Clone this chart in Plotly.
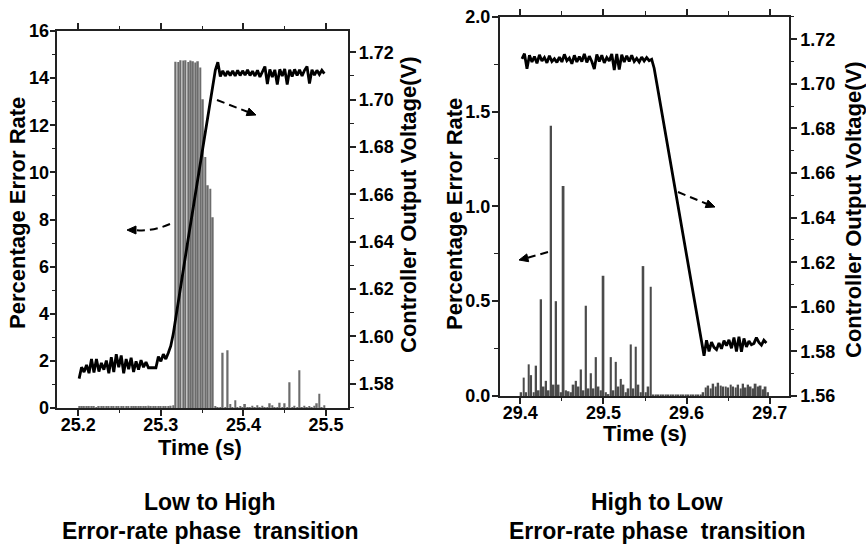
import plotly.graph_objects as go

W, H = 866, 544

# ---- left panel: low -> high transition, one sample every 3 ms ----
lh_t0 = 25.201
lh_dt = 0.003
lh_error = [
    0.05, 0.07, 0.06, 0.08, 0.05, 0.07, 0.06, 0.04, 0.08, 0.06,
    0.05, 0.07, 0.05, 0.06, 0.08, 0.06, 0.07, 0.05, 0.07, 0.06,
    0.08, 0.05, 0.06, 0.07, 0.09, 0.06, 0.07, 0.05, 0.10, 0.06,
    0.08, 0.05, 0.09, 0.06, 0.08, 0.07, 0.09, 0.10, 0.12,
    14.70, 14.68, 14.76, 14.75, 14.76, 14.68, 14.75, 14.72, 14.66, 14.72,
    14.45, 13.10, 10.65, 9.45, 9.30, 8.10,
    0.08, 0.02, 0.03, 2.35, 0.02, 2.45, 0.17, 0.02, 0.33, 0.02,
    0.05, 0.02, 0.17, 0.02, 0.03, 0.10, 0.02, 0.12, 0.02, 0.10,
    0.03, 0.02, 0.20, 0.12, 0.02, 0.03, 0.22, 0.02, 0.20, 0.02,
    1.09, 0.02, 0.10, 0.02, 1.60, 0.02, 0.10, 0.02, 0.08, 0.02,
    0.10, 0.20, 0.60, 0.02, 0.12,
]
lh_volt = [
    1.5822, 1.5870, 1.5850, 1.5880, 1.5845, 1.5905, 1.5848, 1.5905, 1.5852, 1.5888,
    1.5860, 1.5898, 1.5845, 1.5912, 1.5850, 1.5925, 1.5870, 1.5920, 1.5845, 1.5905,
    1.5862, 1.5910, 1.5850, 1.5895, 1.5860, 1.5900, 1.5870, 1.5892, 1.5868, 1.5868,
    1.5868, 1.5868, 1.5915, 1.5895, 1.5925, 1.5905, 1.5930, 1.5960,
    1.6010, 1.6080, 1.6150, 1.6215, 1.6280, 1.6345, 1.6410, 1.6475, 1.6540, 1.6605,
    1.6670, 1.6735, 1.6800, 1.6865, 1.6930, 1.6995, 1.7060, 1.7125, 1.7158,
    1.7098, 1.7122, 1.7100, 1.7120, 1.7102, 1.7122, 1.7100, 1.7124, 1.7102, 1.7122,
    1.7104, 1.7126, 1.7102, 1.7120, 1.7100, 1.7124, 1.7096, 1.7118, 1.7140, 1.7066,
    1.7128, 1.7096, 1.7126, 1.7064, 1.7128, 1.7100, 1.7130, 1.7064, 1.7126, 1.7098,
    1.7128, 1.7102, 1.7126, 1.7100, 1.7124, 1.7140, 1.7068, 1.7126, 1.7104, 1.7124,
    1.7106, 1.7124, 1.7110,
]

# ---- right panel: high -> low transition ----
hl_t0 = 29.401
hl_dt = 0.003
hl_error = [
    0.02, 0.097, 0.02, 0.167, 0.11, 0.02, 0.16, 0.03, 0.51, 0.05,
    0.08, 0.03, 1.425, 0.06, 0.50, 0.06, 0.02, 1.107, 0.03, 0.025,
    0.02, 0.06, 0.08, 0.05, 0.14, 0.03, 0.476, 0.04, 0.12, 0.04,
    0.205, 0.05, 0.03, 0.634, 0.02, 0.01, 0.205, 0.03, 0.18, 0.05,
    0.09, 0.06, 0.02, 0.04, 0.272, 0.04, 0.26, 0.06, 0.02, 0.685,
    0.02, 0.05, 0.576,
    0.008, 0.008, 0.008, 0.008, 0.008, 0.008, 0.008, 0.008, 0.008, 0.008,
    0.008, 0.008, 0.008, 0.008, 0.008, 0.008, 0.008, 0.008, 0.008, 0.008,
    0.02, 0.045, 0.055, 0.04, 0.065, 0.05, 0.07, 0.055, 0.05, 0.05,
    0.045, 0.06, 0.05, 0.045, 0.06, 0.04, 0.065, 0.045, 0.06, 0.05,
    0.04, 0.065, 0.05, 0.055, 0.035, 0.05, 0.02,
]
hl_volt_t0 = 29.402
hl_volt = [
    1.7112, 1.7135, 1.7068, 1.7128, 1.7098, 1.7122, 1.7092, 1.7130, 1.7102, 1.7118,
    1.7094, 1.7126, 1.7100, 1.7112, 1.7096, 1.7120, 1.7098, 1.7132, 1.7104, 1.7116,
    1.7090, 1.7128, 1.7098, 1.7122, 1.7100, 1.7134, 1.7096, 1.7124, 1.7100, 1.7066,
    1.7132, 1.7100, 1.7128, 1.7094, 1.7118, 1.7102, 1.7134, 1.7062, 1.7134, 1.7064,
    1.7130, 1.7098, 1.7126, 1.7100, 1.7128, 1.7100, 1.7114, 1.7098, 1.7120, 1.7102,
    1.7118, 1.7104, 1.7110,
    1.7070, 1.7006, 1.6941, 1.6877, 1.6812, 1.6748, 1.6683, 1.6619, 1.6554, 1.6490,
    1.6425, 1.6361, 1.6296, 1.6232, 1.6167, 1.6103, 1.6038, 1.5974, 1.5909, 1.5845,
    1.5780, 1.5850, 1.5800, 1.5842, 1.5818, 1.5808, 1.5838, 1.5812, 1.5848, 1.5826,
    1.5852, 1.5814, 1.5862, 1.5800, 1.5866, 1.5798, 1.5858, 1.5820, 1.5846, 1.5830,
    1.5836, 1.5862, 1.5840, 1.5828, 1.5850, 1.5838,
]

FONT = "Liberation Sans, Arial, sans-serif"
fig = go.Figure()

fig.add_trace(go.Bar(x0=lh_t0, dx=lh_dt, y=lh_error, width=0.0019,
                     marker=dict(color="#6c6c6c", line=dict(width=0)),
                     xaxis="x", yaxis="y"))
fig.add_trace(go.Scatter(x0=lh_t0, dx=lh_dt, y=lh_volt, mode="lines",
                         line=dict(color="black", width=2.8),
                         xaxis="x", yaxis="y2"))
fig.add_trace(go.Bar(x0=hl_t0, dx=hl_dt, y=hl_error, width=0.0022,
                     marker=dict(color="#4b4b4b", line=dict(width=0)),
                     xaxis="x2", yaxis="y3"))
fig.add_trace(go.Scatter(x0=hl_volt_t0, dx=hl_dt, y=hl_volt, mode="lines",
                         line=dict(color="black", width=2.8),
                         xaxis="x2", yaxis="y4"))


def px(x):
    return x / W


def py(y):
    return 1 - y / H


def axis_style(**kw):
    d = dict(showline=True, linecolor="#222", linewidth=1.5, automargin=False,
             ticks="outside", ticklen=6, tickwidth=1.5, tickcolor="#222",
             showgrid=False, zeroline=False,
             tickfont=dict(family=FONT, size=18, color="black", weight="bold"))
    d.update(kw)
    return d


def minor(step):
    return dict(dtick=step, ticks="outside", ticklen=3.5, tickwidth=1.2, tickcolor="#222")


fig.update_layout(
    template="none",
    width=W, height=H, margin=dict(l=0, r=0, t=0, b=0, pad=0),
    paper_bgcolor="white", plot_bgcolor="white",
    showlegend=False, barmode="overlay",
    xaxis=axis_style(domain=[px(57.3), px(348.3)], range=[25.1746, 25.527],
                     dtick=0.1, tick0=25.2, tickformat=".1f", mirror="ticks",
                     anchor="y", minor=minor(0.05), ticklabelstandoff=-6),
    yaxis=axis_style(domain=[py(408), py(31)], range=[0, 16], dtick=2,
                     anchor="x", minor=minor(1), ticklabelstandoff=-3),
    yaxis2=axis_style(overlaying="y", side="right", anchor="x",
                      range=[1.5698, 1.7290], dtick=0.02, tick0=1.58, tickformat=".2f",
                      minor=minor(0.01), ticklabelstandoff=-1),
    xaxis2=axis_style(domain=[px(499.7), px(789)], range=[29.3752, 29.7232],
                      dtick=0.1, tick0=29.4, tickformat=".1f", mirror="ticks",
                      anchor="y3", minor=minor(0.05), ticklabelstandoff=-6),
    yaxis3=axis_style(domain=[py(396), py(16.7)], range=[0, 2], dtick=0.5,
                      tickformat=".1f", anchor="x2", minor=minor(0.25),
                      ticklabelstandoff=-2),
    yaxis4=axis_style(overlaying="y3", side="right", anchor="x2",
                      range=[1.56, 1.7301], dtick=0.02, tick0=1.56, tickformat=".2f",
                      minor=minor(0.01), ticklabelstandoff=0),
)

# axis titles and captions
labels = [
    ("Percentage Error Rate", 17, 213, -90, 22),
    ("Controller Output Voltage(V)", 408, 205, -90, 22),
    ("Time (s)", 200, 447, 0, 22),
    ("Percentage Error Rate", 455, 214, -90, 22),
    ("Controller Output Voltage(V)", 854, 210, -90, 22),
    ("Time (s)", 645, 433, 0, 22),
    ("Low to High", 210, 502, 0, 23),
    ("Error-rate phase\u00a0 transition", 210, 531, 0, 23),
    ("High to Low", 657, 502, 0, 23),
    ("Error-rate phase\u00a0 transition", 657, 531, 0, 23),
]
for text, x, y, ang, size in labels:
    fig.add_annotation(text=text, x=px(x), y=py(y), xref="paper", yref="paper",
                       xanchor="center", yanchor="middle", textangle=ang,
                       showarrow=False,
                       font=dict(family=FONT, size=size, color="black", weight="bold"))


# dashed arrows pointing at the axis each curve belongs to
def dashed_arrow(points, tip):
    path = "M {},{}".format(px(points[0][0]), py(points[0][1]))
    if len(points) == 3:
        path += " Q {},{} {},{}".format(px(points[1][0]), py(points[1][1]),
                                        px(points[2][0]), py(points[2][1]))
    else:
        path += " L {},{}".format(px(points[1][0]), py(points[1][1]))
    fig.add_shape(type="path", path=path, xref="paper", yref="paper",
                  line=dict(color="black", width=2, dash="8px,5px"))
    ex, ey = points[-1]
    dx, dy = tip[0] - ex, tip[1] - ey
    n = (dx * dx + dy * dy) ** 0.5
    ux, uy = dx / n, dy / n
    bx, by = tip[0] - 9 * ux, tip[1] - 9 * uy
    p1 = (bx - 4 * uy, by + 4 * ux)
    p2 = (bx + 4 * uy, by - 4 * ux)
    tri = "M {},{} L {},{} L {},{} Z".format(px(tip[0]), py(tip[1]), px(p1[0]), py(p1[1]),
                                             px(p2[0]), py(p2[1]))
    fig.add_shape(type="path", path=tri, xref="paper", yref="paper",
                  fillcolor="black", line=dict(color="black", width=1))


dashed_arrow([(170, 224), (152, 232), (135, 230)], (127, 230))
dashed_arrow([(217, 100), (248, 112)], (256, 115))
dashed_arrow([(548, 252), (527, 258)], (519, 260))
dashed_arrow([(678, 192), (707, 204)], (715, 207))

# the page's default body margin would shift the 866x544 figure by 8px
fig.write_html("out.html", config={"displayModeBar": False},
               post_script="document.body.style.margin='0';")
